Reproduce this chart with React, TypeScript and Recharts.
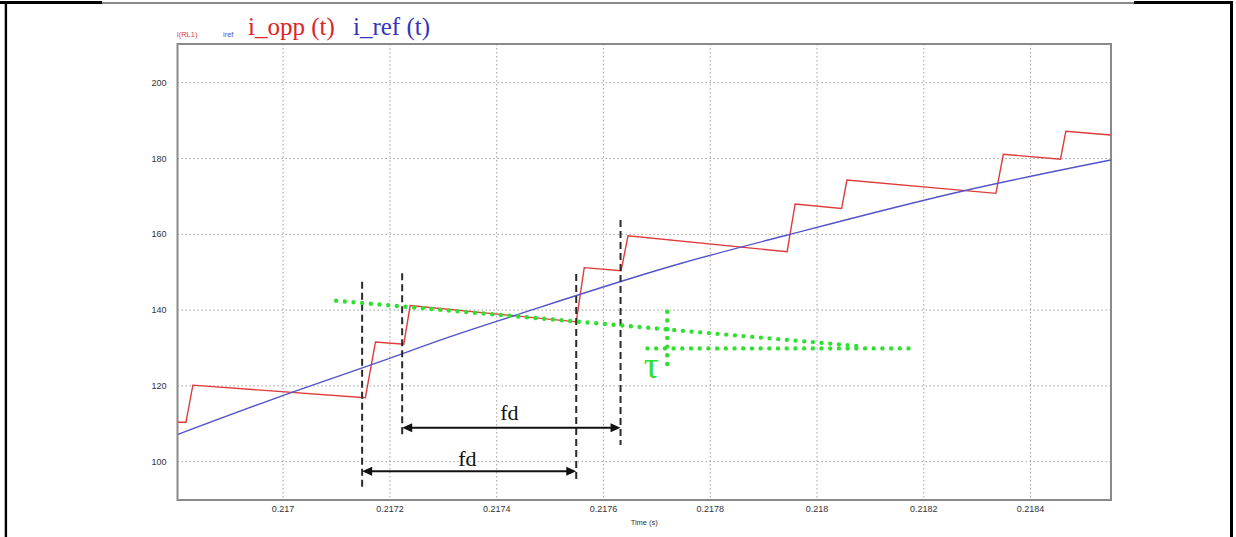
import React from 'react';
import {
  LineChart,
  Line,
  XAxis,
  YAxis,
  CartesianGrid,
  ReferenceLine,
  ReferenceArea,
  ReferenceDot,
  Label,
} from 'recharts';

// ---- axes ----
const xTicks = [0.217, 0.2172, 0.2174, 0.2176, 0.2178, 0.218, 0.2182, 0.2184];
const yTicks = [100, 120, 140, 160, 180, 200];
const xDomain = [0.2168022, 0.2185506];
const yDomain = [89.9, 210.2];

// ---- i(RL1) : i_opp(t) ----
const oppTime = [
  0.216803, 0.216818, 0.216831, 0.217154, 0.217173, 0.217226, 0.217238, 0.217549,
  0.217564, 0.217633, 0.217646, 0.217944, 0.217959, 0.218046, 0.218056, 0.218335,
  0.218349, 0.218456, 0.218466, 0.21855,
];
const oppCurrent = [
  110.4, 110.4, 120.2, 116.9, 131.6, 131.0, 141.2, 136.9,
  151.2, 150.4, 159.6, 155.4, 168.0, 166.8, 174.3, 170.8,
  181.1, 179.8, 187.2, 186.2,
];

// ---- iref : i_ref(t) ----
const refTime = [
  0.216803, 0.2170163, 0.2171819, 0.2173131, 0.2174319, 0.2177444, 0.2179444, 0.2182756, 0.21855,
];
const refCurrent = [107.2, 118.3, 126.4, 133.0, 138.5, 152.3, 159.8, 171.5, 179.6];

// ---- annotations (data coordinates) ----
const markerTime = [0.217148, 0.217223, 0.217549, 0.217632];
const markerTop = [147.5, 149.7, 149.5, 163.8];
const markerBottom = [92.8, 106.6, 95.1, 104.4];

const fdStart = [0.217223, 0.217148];
const fdEnd = [0.217632, 0.217549];
const fdLevel = [108.95, 97.5];
const fdTextTime = [0.2174238, 0.217345];
const fdTextLevel = [111.0, 98.8];

const slopeTime = [0.2170994, 0.2180875];
const slopeLevel = [142.45, 130.4];
const flatTime = [0.2176825, 0.2181813];
const flatLevel = 129.9;
const tauTime = 0.2177194;
const tauRange = [139.55, 125.5];
const tauLabelTime = 0.21769;
const tauLabelLevel = 122.0;

const oppData = oppTime.map((t, i) => ({ t, v: oppCurrent[i] }));
const refData = refTime.map((t, i) => ({ t, v: refCurrent[i] }));

const RED = '#e03a3a';
const BLUE = '#5353cc';
const GREEN = '#2fe02f';

const fmt = (v: number) => String(Number(v.toFixed(4)));

const Arrow = (p: any) => {
  const { x1, y1, x2, y2 } = p;
  const h = 10;
  const w = 4.5;
  return (
    <g>
      <line x1={x1 + 4} y1={y1} x2={x2 - 4} y2={y2} stroke="#111" strokeWidth={2} />
      <polygon points={`${x1},${y1} ${x1 + h},${y1 - w} ${x1 + h},${y1 + w}`} fill="#111" />
      <polygon points={`${x2},${y2} ${x2 - h},${y2 - w} ${x2 - h},${y2 + w}`} fill="#111" />
    </g>
  );
};

const textShape = (txt: string, size: number, color: string) => (p: any) => (
  <text
    x={p.cx}
    y={p.cy}
    textAnchor="middle"
    fontFamily="'Liberation Serif', 'Times New Roman', serif"
    fontSize={size}
    fill={color}
  >
    {txt}
  </text>
);

const dotted = {
  stroke: GREEN,
  strokeWidth: 4.4,
  strokeDasharray: '0 8.7',
  strokeLinecap: 'round' as const,
};

const tickStyle = { fontSize: 9, fill: '#333', fontFamily: "'Liberation Sans', Arial, sans-serif" };

export default function App() {
  return (
    <div
      style={{
        position: 'absolute',
        left: 0,
        top: 0,
        width: 1236,
        height: 537,
        background: '#fff',
        overflow: 'hidden',
      }}
    >
      <LineChart width={1236} height={537} margin={{ top: 44, right: 125, bottom: 7, left: 117.5 }}>
        <CartesianGrid stroke="#a0a0a0" strokeDasharray="1.5 2.5" strokeWidth={1} />
        <XAxis
          type="number"
          dataKey="t"
          domain={xDomain}
          allowDataOverflow
          ticks={xTicks}
          tickFormatter={fmt}
          height={30}
          axisLine={false}
          tickLine={false}
          tickSize={0}
          tickMargin={6}
          tick={tickStyle}
        >
          <Label
            value="Time (s)"
            position="insideBottom"
            offset={5}
            style={{ fontSize: 7.5, fill: '#333', fontFamily: "'Liberation Sans', Arial, sans-serif" }}
          />
        </XAxis>
        <YAxis
          type="number"
          domain={yDomain}
          allowDataOverflow
          ticks={yTicks}
          width={60}
          axisLine={false}
          tickLine={false}
          tickSize={0}
          tickMargin={11}
          tick={tickStyle}
        />
        <ReferenceArea
          x1={xDomain[0]}
          x2={xDomain[1]}
          y1={yDomain[0]}
          y2={yDomain[1]}
          fill="none"
          fillOpacity={0}
          stroke="#8a8a8a"
          strokeWidth={2}
          ifOverflow="visible"
        />
        <Line
          data={oppData}
          dataKey="v"
          type="linear"
          stroke={RED}
          strokeWidth={1.4}
          dot={false}
          isAnimationActive={false}
        />
        <Line
          data={refData}
          dataKey="v"
          type="monotone"
          stroke={BLUE}
          strokeWidth={1.4}
          dot={false}
          isAnimationActive={false}
        />
        {markerTime.map((t, i) => (
          <ReferenceLine
            key={'m' + i}
            segment={[
              { x: t, y: markerTop[i] },
              { x: t, y: markerBottom[i] },
            ]}
            stroke="#2a2a2a"
            strokeWidth={2}
            strokeDasharray="7 4"
            ifOverflow="visible"
          />
        ))}
        {fdStart.map((t, i) => (
          <ReferenceLine
            key={'a' + i}
            segment={[
              { x: t, y: fdLevel[i] },
              { x: fdEnd[i], y: fdLevel[i] },
            ]}
            shape={Arrow}
            ifOverflow="visible"
          />
        ))}
        {fdTextTime.map((t, i) => (
          <ReferenceDot
            key={'f' + i}
            x={t}
            y={fdTextLevel[i]}
            r={1}
            ifOverflow="visible"
            shape={textShape('fd', 22, '#111')}
          />
        ))}
        <ReferenceLine
          segment={[
            { x: slopeTime[0], y: slopeLevel[0] },
            { x: slopeTime[1], y: slopeLevel[1] },
          ]}
          {...dotted}
          ifOverflow="visible"
        />
        <ReferenceLine
          segment={[
            { x: flatTime[0], y: flatLevel },
            { x: flatTime[1], y: flatLevel },
          ]}
          {...dotted}
          ifOverflow="visible"
        />
        <ReferenceLine
          segment={[
            { x: tauTime, y: tauRange[0] },
            { x: tauTime, y: tauRange[1] },
          ]}
          {...dotted}
          ifOverflow="visible"
        />
        <ReferenceDot
          x={tauLabelTime}
          y={tauLabelLevel}
          r={1}
          ifOverflow="visible"
          shape={textShape('τ', 38, GREEN)}
        />
      </LineChart>
      <svg
        width={1236}
        height={537}
        style={{ position: 'absolute', left: 0, top: 0, pointerEvents: 'none' }}
      >
        <rect x={0} y={1} width={102} height={3} fill="#000" />
        <rect x={102} y={2} width={1032} height={2} fill="#8a8a8a" />
        <rect x={1134} y={1} width={99} height={3} fill="#000" />
        <rect x={4.7} y={1} width={2.4} height={536} fill="#000" />
        <rect x={1230} y={1} width={3} height={536} fill="#000" />
        <text x={177} y={37} fontFamily="'Liberation Sans', Arial, sans-serif" fontSize={7.5} fill={RED}>
          i(RL1)
        </text>
        <text x={223} y={37} fontFamily="'Liberation Sans', Arial, sans-serif" fontSize={7.5} fill={BLUE}>
          iref
        </text>
        <text x={248} y={35} fontFamily="'Liberation Serif', 'Times New Roman', serif" fontSize={25} fill="#dd2424">
          i_opp (t)
        </text>
        <text x={353} y={35} fontFamily="'Liberation Serif', 'Times New Roman', serif" fontSize={25} fill="#3434b8">
          i_ref (t)
        </text>
      </svg>
    </div>
  );
}
